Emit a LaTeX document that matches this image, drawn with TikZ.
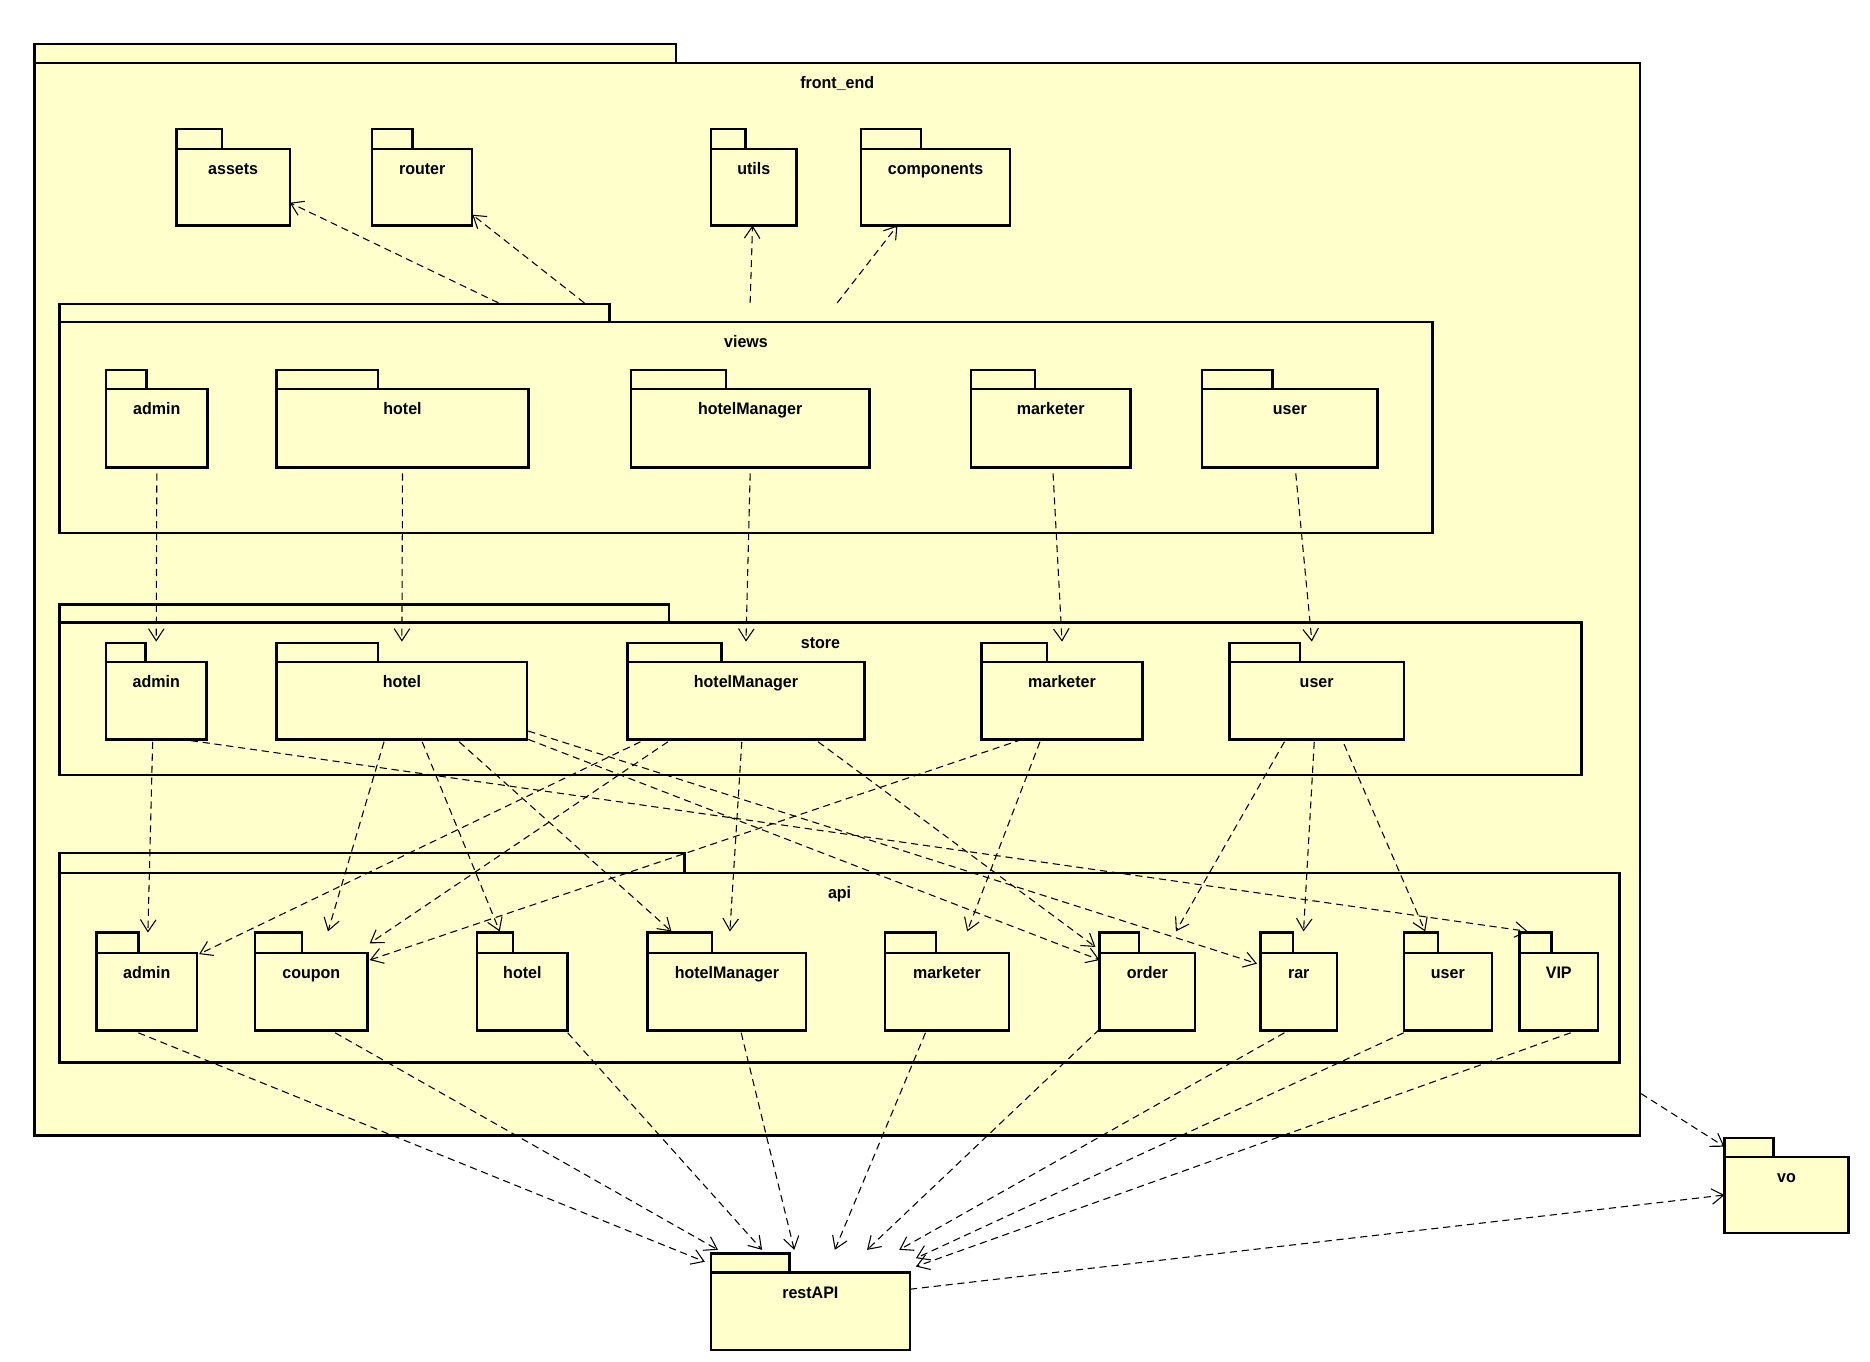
\documentclass[tikz,border=0pt]{standalone}
\usepackage{fontspec}
\usepackage{tikz}
\usetikzlibrary{arrows.meta}
\newfontfamily\pkgfont[FakeStretch=0.96]{Liberation Sans}
\definecolor{pkgyellow}{HTML}{FFFFCC}

\begin{document}
\begin{tikzpicture}[x=1pt, y=-1pt,
        pkg/.style={draw, line width=2pt, fill=pkgyellow, anchor=north west, inner sep=0pt, outer sep=0pt},
        pkgtab/.style={draw, line width=2pt, fill=pkgyellow, anchor=south west, inner sep=0pt, outer sep=0pt, minimum height=17pt},
        lbl/.style={anchor=base, yshift=-21.5pt, inner sep=0pt, font={\fontsize{14}{16}\pkgfont\bfseries}},
        dep/.style={line width=0.9pt, dash pattern=on 6pt off 4pt, -{Straight Barb[length=10pt, width=13pt]}}]
        \useasboundingbox (0, 0) rectangle (1568, 1142);

        % front_end
        \node [pkg, minimum width=1346pt, minimum height=899pt, label={[lbl]north:front\_end}] (FE) at (29, 53) {};
        \node [pkgtab, minimum width=538pt, minimum height=16pt] (FEt) at (FE.north west) {};

        \node [pkg, minimum width=95pt, minimum height=64pt, label={[lbl]north:assets}] (T1) at (148, 125) {};
        \node [pkg, minimum width=84pt, minimum height=64pt, label={[lbl]north:router}] (T2) at (312, 125) {};
        \node [pkg, minimum width=72pt, minimum height=64pt, label={[lbl]north:utils}] (T3) at (596, 125) {};
        \node [pkg, minimum width=125pt, minimum height=64pt, label={[lbl]north:components}] (T4) at (722, 125) {};
        \node [pkgtab, minimum width=38pt] (T1t) at (T1.north west) {};
        \node [pkgtab, minimum width=34pt] (T2t) at (T2.north west) {};
        \node [pkgtab, minimum width=29pt] (T3t) at (T3.north west) {};
        \node [pkgtab, minimum width=50pt] (T4t) at (T4.north west) {};

        % views
        \node [pkg, minimum width=1151pt, minimum height=177pt, label={[lbl]north:views}] (VW) at (50, 270) {};
        \node [pkgtab, minimum width=461pt, minimum height=15pt] (VWt) at (VW.north west) {};
        \node [pkg, minimum width=85pt, minimum height=66pt, label={[lbl]north:admin}] (V1) at (89, 326) {};
        \node [pkg, minimum width=211pt, minimum height=66pt, label={[lbl]north:hotel}] (V2) at (232, 326) {};
        \node [pkg, minimum width=200pt, minimum height=66pt, label={[lbl]north:hotelManager}] (V3) at (529, 326) {};
        \node [pkg, minimum width=134pt, minimum height=66pt, label={[lbl]north:marketer}] (V4) at (814, 326) {};
        \node [pkg, minimum width=147pt, minimum height=66pt, label={[lbl]north:user}] (V5) at (1008, 326) {};
        \node [pkgtab, minimum width=34pt, minimum height=16pt] (V1t) at (V1.north west) {};
        \node [pkgtab, minimum width=85pt, minimum height=16pt] (V2t) at (V2.north west) {};
        \node [pkgtab, minimum width=80pt, minimum height=16pt] (V3t) at (V3.north west) {};
        \node [pkgtab, minimum width=54pt, minimum height=16pt] (V4t) at (V4.north west) {};
        \node [pkgtab, minimum width=59pt, minimum height=16pt] (V5t) at (V5.north west) {};

        % store
        \node [pkg, minimum width=1276pt, minimum height=128pt, label={[lbl]north:store}] (ST) at (50, 522) {};
        \node [pkgtab, minimum width=511pt, minimum height=15pt] (STt) at (ST.north west) {};
        \node [pkg, minimum width=84pt, minimum height=65pt, label={[lbl]north:admin}] (S1) at (89, 555) {};
        \node [pkg, minimum width=210pt, minimum height=65pt, label={[lbl]north:hotel}] (S2) at (232, 555) {};
        \node [pkg, minimum width=199pt, minimum height=65pt, label={[lbl]north:hotelManager}] (S3) at (526, 555) {};
        \node [pkg, minimum width=135pt, minimum height=65pt, label={[lbl]north:marketer}] (S4) at (823, 555) {};
        \node [pkg, minimum width=146pt, minimum height=65pt, label={[lbl]north:user}] (S5) at (1031, 555) {};
        \node [pkgtab, minimum width=33pt, minimum height=16pt] (S1t) at (S1.north west) {};
        \node [pkgtab, minimum width=85pt, minimum height=16pt] (S2t) at (S2.north west) {};
        \node [pkgtab, minimum width=79pt, minimum height=16pt] (S3t) at (S3.north west) {};
        \node [pkgtab, minimum width=55pt, minimum height=16pt] (S4t) at (S4.north west) {};
        \node [pkgtab, minimum width=59pt, minimum height=16pt] (S5t) at (S5.north west) {};

        % api
        \node [pkg, minimum width=1308pt, minimum height=159pt, label={[lbl]north:api}] (AP) at (50, 732) {};
        \node [pkgtab, minimum width=524pt] (APt) at (AP.north west) {};
        \node [pkg, minimum width=84pt, minimum height=65pt, label={[lbl]north:admin}] (P1) at (81, 799) {};
        \node [pkg, minimum width=94pt, minimum height=65pt, label={[lbl]north:coupon}] (P2) at (214, 799) {};
        \node [pkg, minimum width=76pt, minimum height=65pt, label={[lbl]north:hotel}] (P3) at (400, 799) {};
        \node [pkg, minimum width=133pt, minimum height=65pt, label={[lbl]north:hotelManager}] (P4) at (543, 799) {};
        \node [pkg, minimum width=104pt, minimum height=65pt, label={[lbl]north:marketer}] (P5) at (742, 799) {};
        \node [pkg, minimum width=80pt, minimum height=65pt, label={[lbl]north:order}] (P6) at (922, 799) {};
        \node [pkg, minimum width=64pt, minimum height=65pt, label={[lbl]north:rar}] (P7) at (1057, 799) {};
        \node [pkg, minimum width=74pt, minimum height=65pt, label={[lbl]north:user}] (P8) at (1177, 799) {};
        \node [pkg, minimum width=66pt, minimum height=65pt, label={[lbl]north:VIP}] (P9) at (1274, 799) {};
        \node [pkgtab, minimum width=35pt] (P1t) at (P1.north west) {};
        \node [pkgtab, minimum width=39pt] (P2t) at (P2.north west) {};
        \node [pkgtab, minimum width=30pt] (P3t) at (P3.north west) {};
        \node [pkgtab, minimum width=54pt] (P4t) at (P4.north west) {};
        \node [pkgtab, minimum width=43pt] (P5t) at (P5.north west) {};
        \node [pkgtab, minimum width=33pt] (P6t) at (P6.north west) {};
        \node [pkgtab, minimum width=27pt] (P7t) at (P7.north west) {};
        \node [pkgtab, minimum width=29pt] (P8t) at (P8.north west) {};
        \node [pkgtab, minimum width=27pt] (P9t) at (P9.north west) {};

        % restAPI, vo
        \node [pkg, minimum width=167pt, minimum height=65pt, label={[lbl]north:restAPI}] (RA) at (596, 1067) {};
        \node [pkg, minimum width=104pt, minimum height=64pt, label={[lbl]north:vo}] (VO) at (1446, 970) {};
        \node [pkgtab, minimum width=66pt, minimum height=16pt] (RAt) at (RA.north west) {};
        \node [pkgtab, minimum width=41pt, minimum height=16pt] (VOt) at (VO.north west) {};

        % views -> top packages
        \draw [dep] ([xshift=368pt, yshift=16pt]VW.north west) -- ([yshift=-13pt]T1.east);
        \draw [dep] ([xshift=440pt, yshift=16pt]VW.north west) -- ([yshift=-23pt]T2.east);
        \draw [dep] ([xshift=579pt, yshift=16pt]VW.north west) -- ([xshift=-1pt]T3.south);
        \draw [dep] ([xshift=652pt, yshift=16pt]VW.north west) -- ([xshift=-32pt]T4.south);

        % views -> store
        \draw [dep] ([yshift=-5pt]V1.south) -- ([yshift=17pt]S1.north);
        \draw [dep] ([yshift=-5pt]V2.south) -- ([yshift=17pt]S2.north);
        \draw [dep] ([yshift=-5pt]V3.south) -- ([yshift=17pt]S3.north);
        \draw [dep] ([xshift=2pt, yshift=-5pt]V4.south) -- ([yshift=17pt]S4.north);
        \draw [dep] ([xshift=5pt, yshift=-5pt]V5.south) -- ([xshift=-4pt, yshift=17pt]S5.north);

        % store -> api
        \draw [dep] ([xshift=-3pt, yshift=-2pt]S1.south) -- ([xshift=1pt, yshift=17pt]P1.north);
        \draw [dep] ([xshift=-13pt, yshift=-1pt]S1.south east) -- ([xshift=7pt, yshift=18pt]P9.north west);
        \draw [dep] ([xshift=90pt, yshift=-2pt]S2.south west) -- ([xshift=61pt, yshift=18pt]P2.north west);
        \draw [dep] ([xshift=122pt, yshift=-2pt]S2.south west) -- ([xshift=19pt, yshift=18pt]P3.north west);
        \draw [dep] ([xshift=153pt, yshift=-2pt]S2.south west) -- ([xshift=20pt, yshift=18pt]P4.north west);
        \draw [dep] ([xshift=1pt, yshift=7pt]S2.south east) -- ([xshift=-3pt, yshift=-9pt]P7.north west);
        \draw [dep] ([xshift=1pt]S2.south east) -- ([yshift=-6pt]P6.north west);
        \draw [dep] ([xshift=11pt, yshift=-2pt]S3.south west) -- ([xshift=2pt, yshift=-1pt]P1.north east);
        \draw [dep] ([xshift=34pt, yshift=-2pt]S3.south west) -- ([xshift=2pt, yshift=8pt]P2.north east);
        \draw [dep] ([xshift=-3.5pt, yshift=-2pt]S3.south) -- ([xshift=69pt, yshift=18pt]P4.north west);
        \draw [dep] ([xshift=-39pt, yshift=-2pt]S3.south east) -- ([xshift=-3.5pt, yshift=5pt]P6.north west);
        \draw [dep] ([xshift=49pt, yshift=-2pt]S4.south west) -- ([xshift=69pt, yshift=18pt]P5.north west);
        \draw [dep] ([xshift=34pt]S4.south west) -- ([xshift=2pt, yshift=-6pt]P2.north east);
        \draw [dep] ([xshift=46pt, yshift=-2pt]S5.south west) -- ([xshift=64pt, yshift=18pt]P6.north west);
        \draw [dep] ([xshift=71pt, yshift=-2pt]S5.south west) -- ([xshift=36pt, yshift=18pt]P7.north west);
        \draw [dep] ([xshift=96pt, yshift=-4pt]S5.south west) -- ([xshift=18pt, yshift=18pt]P8.north west);

        % api -> restAPI
        \draw [dep] ([xshift=-7pt, yshift=-2pt]P1.south) -- ([xshift=-5pt, yshift=9pt]RA.north west);
        \draw [dep] ([xshift=20pt, yshift=-2pt]P2.south) -- ([xshift=6pt, yshift=19pt]RA.north west);
        \draw [dep] ([yshift=-2pt]P3.south east) -- ([xshift=43pt, yshift=19pt]RA.north west);
        \draw [dep] ([xshift=12pt, yshift=-2pt]P4.south) -- ([xshift=70pt, yshift=19pt]RA.north west);
        \draw [dep] ([xshift=-18pt, yshift=-2pt]P5.south) -- ([xshift=104pt, yshift=19pt]RA.north west);
        \draw [dep] ([yshift=1pt]P6.south west) -- ([xshift=131pt, yshift=19pt]RA.north west);
        \draw [dep] ([xshift=-12pt, yshift=-2pt]P7.south) -- ([xshift=158pt, yshift=19pt]RA.north west);
        \draw [dep] ([yshift=-2pt]P8.south west) -- ([xshift=5pt, yshift=12pt]RA.north east);
        \draw [dep] ([xshift=10pt, yshift=-2pt]P9.south) -- ([xshift=5pt, yshift=5pt]RA.north east);

        % -> vo
        \draw [dep] ([xshift=1pt, yshift=35pt]FE.south east) -- ([yshift=8.5pt]VO.north west);
        \draw [dep] ([yshift=-14pt]RA.north east) -- ([yshift=-32pt]VO.north west);
    \end{tikzpicture}
\end{document}
